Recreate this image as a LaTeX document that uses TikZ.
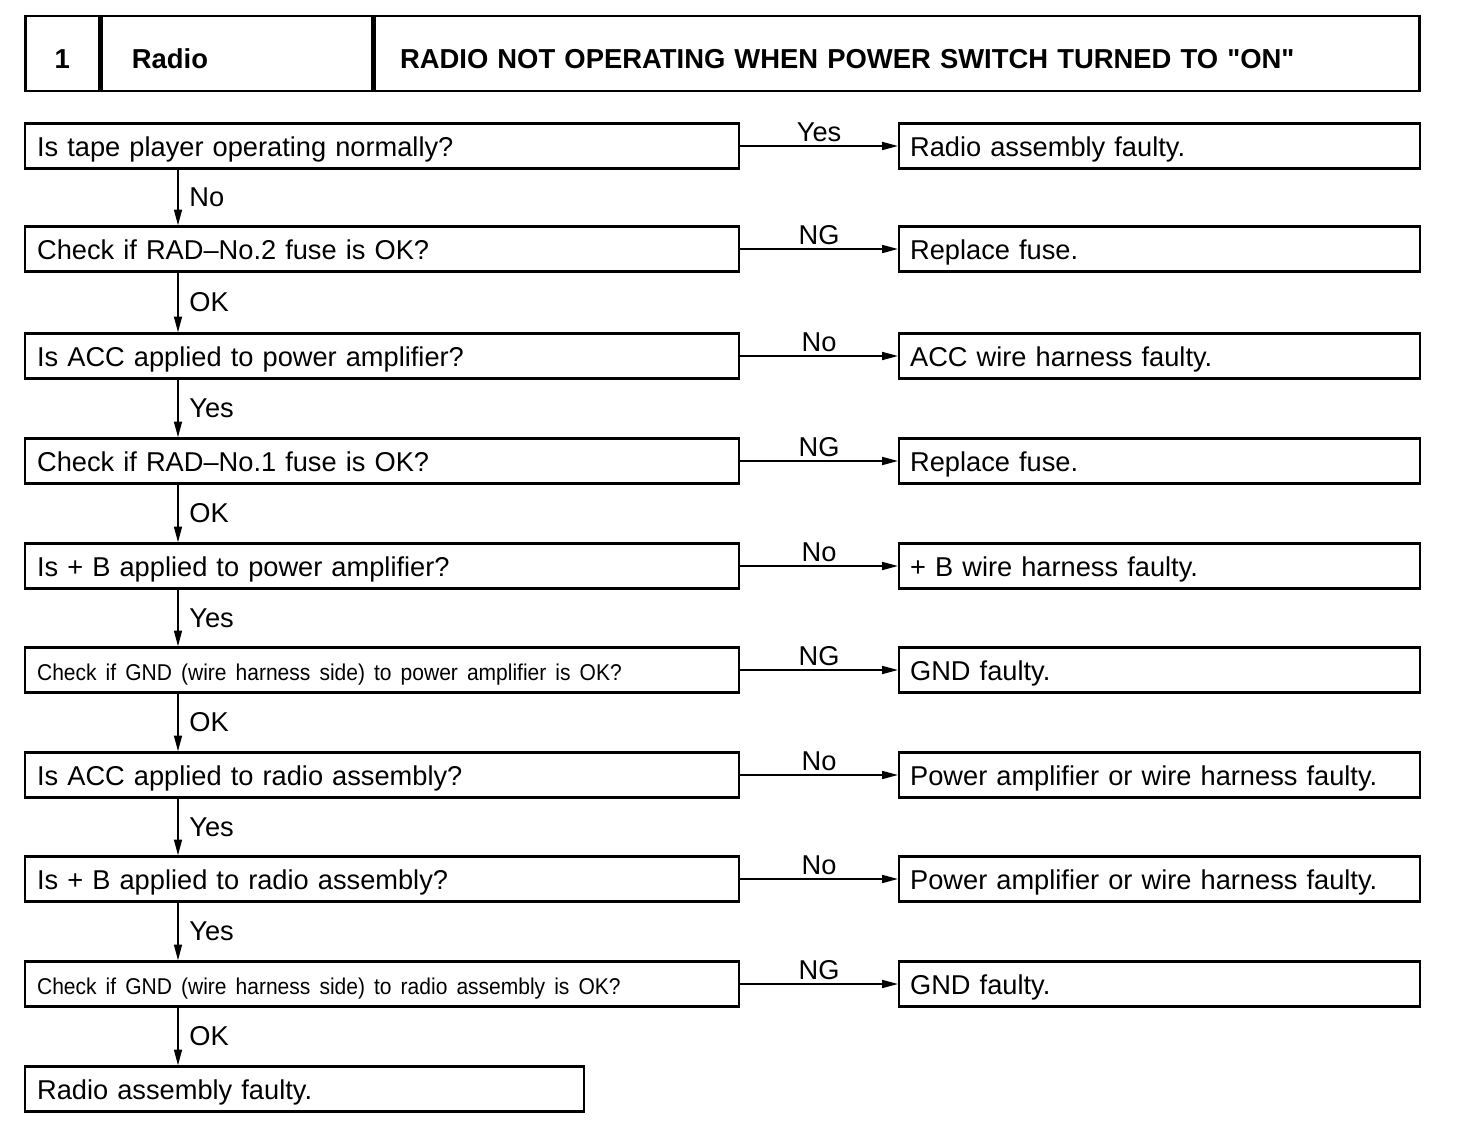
\documentclass[tikz,border=0pt]{standalone}
\usepackage{fontspec}
\setmainfont{Liberation Sans}
\newfontfamily\narrowfont[FakeStretch=0.92]{Liberation Sans}
\usetikzlibrary{arrows.meta,positioning}
\definecolor{Ink}{HTML}{000000}

\begin{document}
\begin{tikzpicture}[x=0.02cm,y=-0.02cm,
    every node/.style={font=\fontsize{15.5}{18}\selectfont,text=Ink},
    hbox/.style={draw=Ink,line width=1.5pt,anchor=west,minimum height=1.5cm,align=left,
      text height=0.6cm,text depth=0pt,font=\fontsize{15.6}{18}\selectfont\bfseries},
    qbox/.style={draw=Ink,line width=1.3pt,anchor=west,minimum height=0.9cm,
      text height=11.4pt,text depth=0pt,inner xsep=0.24cm,text width=13.8cm,align=left},
    abox/.style={qbox,inner xsep=0.22cm,text width=9.98cm},
    link/.style={draw=Ink,line width=1pt,-{Triangle[length=9pt,width=4.5pt]}},
    htag/.style={above,inner ysep=2pt},
    vtag/.style={right,inner xsep=6pt}]
  \useasboundingbox (0,0) rectangle (1472,1136);
  % header
  \node[hbox,minimum width=1.48cm,align=center] (num) at (24,53.5) {1};
  \node[hbox,inner xsep=0.6cm,text width=4.21cm] (topic) at (num.east) {Radio};
  \node[hbox,inner xsep=0.5cm,text width=19.89cm] (title) at (topic.east)
    {RADIO NOT OPERATING WHEN POWER SWITCH TURNED TO \textquotedbl ON\textquotedbl};
  % checks and results
  \foreach \i/\y/\q/\lab/\a in {
    1/146/{Is tape player operating normally?}/Yes/{Radio assembly faulty.},
    2/249/{Check if RAD--No.2 fuse is OK?}/NG/{Replace fuse.},
    3/356/{Is ACC applied to power amplifier?}/No/{ACC wire harness faulty.},
    4/461/{Check if RAD--No.1 fuse is OK?}/NG/{Replace fuse.},
    5/566/{Is + B applied to power amplifier?}/No/{+ B wire harness faulty.},
    6/670/{\fontsize{13}{15}\narrowfont Check if GND (wire harness side) to power amplifier is OK?}/NG/{GND faulty.},
    7/775/{Is ACC applied to radio assembly?}/No/{Power amplifier or wire harness faulty.},
    8/879/{Is + B applied to radio assembly?}/No/{Power amplifier or wire harness faulty.},
    9/984/{\fontsize{13}{15}\narrowfont Check if GND (wire harness side) to radio assembly is OK?}/NG/{GND faulty.}}{
    \node[qbox] (q\i) at (24,\y) {\q};
    \node[abox] (a\i) at (898,\y) {\a};
    \draw[link] (q\i) -- node[htag] {\lab} (a\i);
  }
  \node[qbox,text width=10.7cm] (q10) at (24,1089) {Radio assembly faulty.};
  % downward path
  \coordinate (col) at (178,0);
  \foreach \i/\j/\lab in {1/2/No,2/3/OK,3/4/Yes,4/5/OK,5/6/Yes,6/7/OK,7/8/Yes,8/9/Yes,9/10/OK}
    \draw[link] (q\i.south -| col) -- node[vtag] {\lab} (q\j.north -| col);
\end{tikzpicture}
\end{document}
